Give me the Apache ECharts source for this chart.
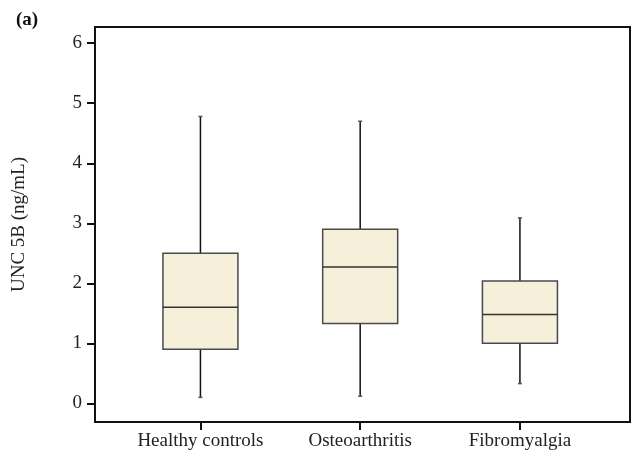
<!DOCTYPE html>
<html>
<head>
<meta charset="utf-8">
<script src="https://cdn.jsdelivr.net/npm/echarts@6/dist/echarts.min.js"></script>
<style>
html,body{margin:0;padding:0;background:#fff;}
#c{width:637px;height:455px;}
</style>
</head>
<body>
<div id="c"></div>
<script>
const categories = ['Healthy controls', 'Osteoarthritis', 'Fibromyalgia'];
const mins    = [0.10, 0.12, 0.33];
const q1s     = [0.90, 1.33, 1.00];
const medians = [1.60, 2.27, 1.48];
const q3s     = [2.50, 2.90, 2.04];
const maxs    = [4.78, 4.70, 3.09];
const yTicks  = [0, 1, 2, 3, 4, 5, 6];
const yTitle  = 'UNC 5B (ng/mL)';
const panelLabel = '(a)';

const data = categories.map((c, i) => [i, mins[i], q1s[i], medians[i], q3s[i], maxs[i]]);
const FONT = '"Liberation Serif", "DejaVu Serif", serif';
const BOX_W = 75;
const CAP_W = 4;

const chart = echarts.init(document.getElementById('c'), null, {renderer: 'canvas'});
chart.setOption({
  animation: false,
  backgroundColor: '#fff',
  title: {
    text: panelLabel, left: 11, top: 6,
    textStyle: {fontFamily: FONT, fontWeight: 'bold', fontSize: 19, color: '#111'}
  },
  grid: {left: 95, right: 7, top: 27, bottom: 33, show: true, borderColor: '#111', borderWidth: 2, backgroundColor: 'transparent'},
  xAxis: {
    type: 'value', min: -0.66, max: 2.689,
    splitLine: {show: false},
    axisLine: {show: true, onZero: false, lineStyle: {color: '#111', width: 2}},
    axisTick: {show: true, customValues: [0, 1, 2], length: 8, lineStyle: {color: '#111', width: 2}},
    axisLabel: {
      customValues: [0, 1, 2], margin: 10,
      formatter: v => categories[Math.round(v)] || '',
      fontFamily: FONT, fontSize: 19, color: '#222'
    }
  },
  yAxis: {
    type: 'value', min: -0.31, max: 6.27,
    name: yTitle, nameLocation: 'middle', nameGap: 66, nameRotate: 90,
    nameTextStyle: {fontFamily: FONT, fontSize: 19, color: '#222'},
    splitLine: {show: false},
    axisLine: {show: true, onZero: false, lineStyle: {color: '#111', width: 2}},
    axisTick: {show: true, customValues: yTicks, length: 8, lineStyle: {color: '#111', width: 2}},
    axisLabel: {customValues: yTicks, margin: 13, fontFamily: FONT, fontSize: 19, color: '#222'}
  },
  series: [{
    type: 'custom',
    data: data,
    clip: false,
    renderItem: function (params, api) {
      const x = api.value(0);
      const pMin = api.coord([x, api.value(1)]);
      const pQ1 = api.coord([x, api.value(2)]);
      const pMed = api.coord([x, api.value(3)]);
      const pQ3 = api.coord([x, api.value(4)]);
      const pMax = api.coord([x, api.value(5)]);
      const cx = pQ1[0];
      const h = BOX_W / 2;
      const whisker = {stroke: '#111', lineWidth: 1.5};
      return {
        type: 'group',
        children: [
          {type: 'line', shape: {x1: cx, y1: pQ3[1], x2: cx, y2: pMax[1]}, style: whisker},
          {type: 'line', shape: {x1: cx, y1: pQ1[1], x2: cx, y2: pMin[1]}, style: whisker},
          {type: 'line', shape: {x1: cx - CAP_W / 2, y1: pMax[1], x2: cx + CAP_W / 2, y2: pMax[1]}, style: {stroke: '#555', lineWidth: 1.5}},
          {type: 'line', shape: {x1: cx - CAP_W / 2, y1: pMin[1], x2: cx + CAP_W / 2, y2: pMin[1]}, style: {stroke: '#555', lineWidth: 1.5}},
          {type: 'rect', shape: {x: cx - h, y: pQ3[1], width: BOX_W, height: pQ1[1] - pQ3[1]},
           style: {fill: '#f6f0da', stroke: '#4a4a4a', lineWidth: 1.5}},
          {type: 'line', shape: {x1: cx - h, y1: pMed[1], x2: cx + h, y2: pMed[1]}, style: {stroke: '#333', lineWidth: 1.5}}
        ]
      };
    }
  }]
});
</script>
</body>
</html>
